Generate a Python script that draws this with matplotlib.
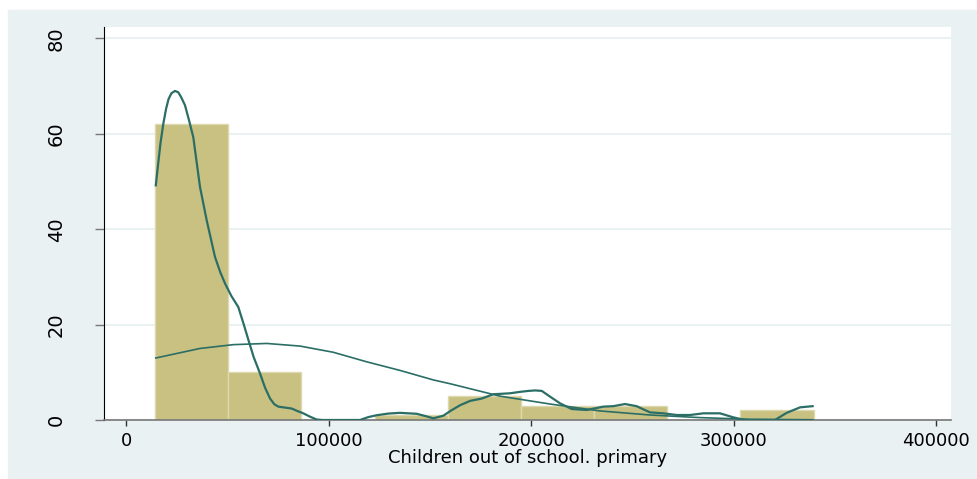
import numpy as np
import matplotlib.pyplot as plt
from matplotlib.patches import Rectangle

# histogram of children out of school (primary), 9 bins
bin_start = 14300
bin_width = 36120
counts = [62, 10, 0, 1, 5, 3, 3, 0, 2]

# kernel density, scaled to frequency (x in thousands)
kde_x = [14.7, 15.8, 17.0, 18.4, 19.8, 21.0, 22.4, 24.2, 25.8, 27.2, 29.1, 31.0,
         33.2, 36.5, 39.8, 43.9, 46.5, 48.9, 52.0, 55.4, 58.0, 60.4, 63.0, 66.1,
         68.6, 71.1, 73.2, 75.2, 78.5, 81.8, 84.5, 87.5, 90.8, 94.1, 97.0, 99.0,
         110.0, 115.5, 119.5, 123.7, 129.5, 135.2, 143.5, 148.0, 151.7, 156.6,
         160.5, 164.9, 169.8, 175.6, 181.3, 189.5, 194.5, 198.6, 202.0, 205.2,
         209.3, 214.2, 220.0, 227.4, 235.6, 240.5, 246.3, 252.0, 258.6, 265.2,
         271.8, 278.4, 285.0, 293.2, 299.8, 305.5, 320.3, 326.1, 332.7, 338.9]
kde_y = [49.2, 53.5, 58.0, 62.1, 65.3, 67.3, 68.5, 69.0, 68.7, 67.7, 66.0, 63.0,
         59.3, 48.9, 41.9, 34.2, 31.0, 28.6, 26.0, 23.7, 20.2, 16.8, 13.2, 9.8,
         6.8, 4.5, 3.3, 2.8, 2.6, 2.4, 1.9, 1.4, 0.7, 0.1, 0.0, 0.0,
         0.0, 0.0, 0.6, 1.0, 1.35, 1.5, 1.3, 0.8, 0.35, 0.9,
         2.0, 3.1, 4.0, 4.5, 5.4, 5.6, 5.9, 6.1, 6.2, 6.1,
         4.9, 3.5, 2.3, 2.1, 2.8, 2.9, 3.35, 2.9, 1.6, 1.4,
         1.05, 1.05, 1.4, 1.4, 0.55, 0.0, 0.0, 1.5, 2.65, 2.9]

# normal density, scaled to frequency (x in thousands)
norm_x = [14.7, 36.5, 53.0, 69.4, 85.9, 102.3, 118.8, 135.2, 151.7, 160.0,
          184.6, 209.3, 234.0, 258.6, 283.3, 308.0, 339.0]
norm_y = [13.0, 15.0, 15.8, 16.05, 15.5, 14.2, 12.2, 10.4, 8.4, 7.6,
          5.0, 3.35, 1.9, 1.05, 0.5, 0.15, 0.05]

bar_color = "#C9C181"
line_color = "#2B6E66"
bg_color = "#EAF1F3"

fig = plt.figure(figsize=(9.78, 4.79), dpi=100)
fig.patches.append(Rectangle((8 / 978, 1 / 479), 968 / 978, 468 / 479,
                             transform=fig.transFigure, color=bg_color, zorder=-10))

ax = fig.add_axes([104 / 978, 59 / 479, 847 / 978, 393 / 479])
ax.set_facecolor("white")

edges = bin_start + bin_width * np.arange(len(counts))
ax.bar(edges, counts, width=bin_width, align="edge", color=bar_color,
       edgecolor="#DDD8AE", linewidth=1, zorder=2)

ax.plot(np.array(kde_x) * 1000, kde_y, color=line_color, lw=1.6, zorder=3,
        solid_joinstyle="round")
ax.plot(np.array(norm_x) * 1000, norm_y, color=line_color, lw=1.2, zorder=3)

ax.set_xlim(-10870, 407200)
ax.set_ylim(0, 82.4)

ax.set_xticks([0, 100000, 200000, 300000, 400000])
ax.set_yticks([0, 20, 40, 60, 80])
ax.yaxis.grid(True, color=bg_color, lw=1.5, zorder=0)
ax.set_axisbelow(True)

for s in ["top", "right"]:
    ax.spines[s].set_visible(False)
ax.spines["left"].set_color("black")
ax.spines["bottom"].set_color("#777777")
ax.spines["bottom"].set_linewidth(1.2)

ax.tick_params(axis="y", length=6.5, width=1, color="#777777", pad=21,
               labelsize=14, labelrotation=90)
for lbl in ax.get_yticklabels():
    lbl.set_va("center")
ax.tick_params(axis="x", length=4.5, width=1, color="#333333", pad=4,
               labelsize=13)

ax.set_xlabel("Children out of school. primary", fontsize=13)
ax.xaxis.set_label_coords(0.5, -0.074)

fig.savefig("out.png", dpi=100, facecolor="white")
